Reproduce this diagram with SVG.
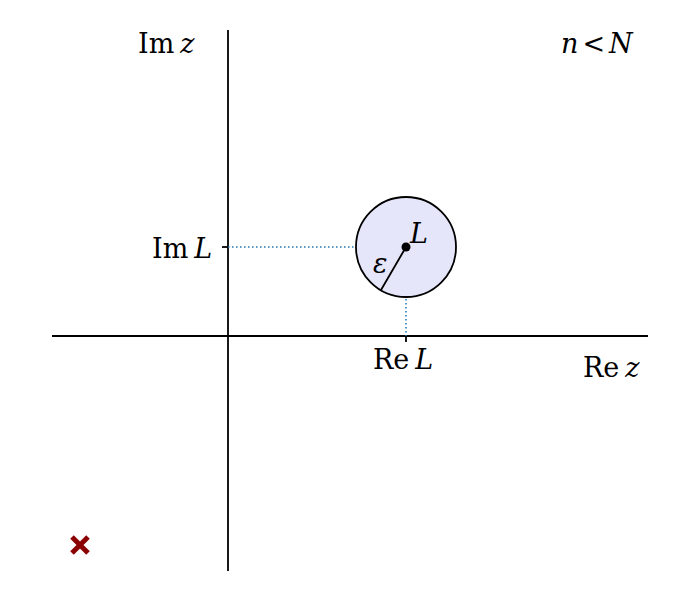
<svg xmlns="http://www.w3.org/2000/svg" width="700" height="600" viewBox="0 0 700 600">
<style>
.ax{stroke:#000;stroke-width:1.8;fill:none}
.dot{stroke:#1f77b4;stroke-width:1.5;stroke-dasharray:1.5,2.5;fill:none}
text{font-family:"DejaVu Serif",serif;font-size:27px;fill:#000}
.i{font-style:italic}
</style>
<rect width="700" height="600" fill="#fff"/>
<g id="connectors">
<line class="ax" x1="228" y1="30" x2="228" y2="571"/>
<line class="ax" x1="52" y1="336" x2="648" y2="336"/>
<line class="dot" x1="228" y1="247" x2="406" y2="247"/>
<line class="dot" x1="406" y1="247" x2="406" y2="336"/>
<line class="ax" x1="222" y1="247" x2="228" y2="247"/>
<line class="ax" x1="406" y1="336" x2="406" y2="342"/>
</g>
<g id="circle">
<circle cx="406" cy="247" r="50" fill="#e6e6fa" stroke="#000" stroke-width="1.8"/>
<line class="ax" x1="406" y1="247" x2="381" y2="290"/>
<circle cx="406" cy="247" r="4.5" fill="#000"/>
<text x="410" y="243" class="i">L</text>
<text x="373" y="273" class="i">ε</text>
</g>
<g id="labels">
<text x="138" y="53">Im<tspan class="i" dx="6">z</tspan></text>
<text x="561" y="53" class="i">n<tspan font-style="normal" dx="4">&lt;</tspan><tspan dx="4">N</tspan></text>
<text x="152" y="258">Im<tspan class="i" dx="6">L</tspan></text>
<text x="373" y="369">Re<tspan class="i" dx="6">L</tspan></text>
<text x="583" y="377">Re<tspan class="i" dx="6">z</tspan></text>
</g>
<g id="marker">
<path d="M72 537 L88 553 M88 537 L72 553" stroke="#8b0000" stroke-width="5"/>
</g>
</svg>
